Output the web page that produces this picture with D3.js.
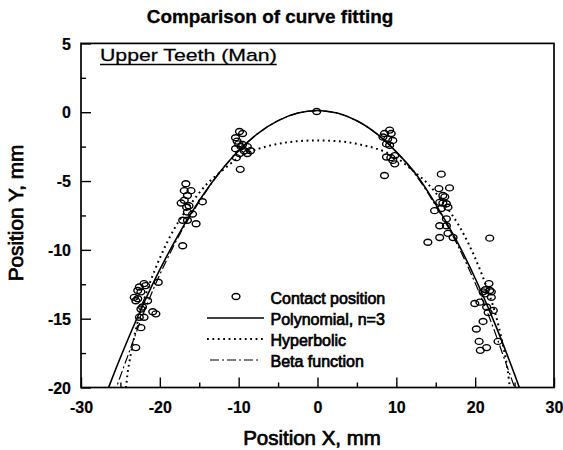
<!DOCTYPE html>
<html><head><meta charset="utf-8">
<script src="https://cdn.jsdelivr.net/npm/d3@7"></script>
<style>body{margin:0;background:#fff}svg{display:block}text{font-family:"Liberation Sans",Arial,sans-serif;fill:#000}</style>
</head><body>
<svg id="c" width="563" height="450"></svg>
<script>
// ---- data ----
const xTickValues = [-30,-20,-10,0,10,20,30];
const yTickValues = [5,0,-5,-10,-15,-20];
const xMinorTicks = [-25,-15,-5,5,15,25];
const yMinorTicks = [2.5,-2.5,-7.5,-12.5,-17.5];

const contactX = [-0.1,
 -9.9,-9.5,-10.4,-10.2,-9.5,-8.9,-10.4,-9.3,-8.5,-9.9,-8.9,-10.3,-9.8,-9.7,-10.0,
 -16.7,-16.9,-16.05,-16.5,-16.9,-17.3,-14.6,-16.3,-16.5,-15.85,-17.1,-16.5,-15.4,-17.1,-16.6,
 -20.2,
 -22.0,-21.8,-22.6,-22.8,-22.4,-23.25,-22.8,-23.05,-21.55,-22.2,-22.4,-20.9,-20.5,-22.6,-22.0,-22.4,-23.05,
 8.5,9.15,9.35,8.3,8.9,9.55,8.75,9.15,9.8,8.75,9.55,9.8,8.5,9.3,
 15.7,15.4,16.75,15.9,16.15,15.5,16.35,16.55,14.85,15.7,16.35,15.5,16.35,16.55,15.5,17.2,14.0,21.85,15.9,
 21.75,21.0,21.85,22.05,21.2,22.05,19.95,20.6,21.45,22.3,21.65,21.0,20.15,22.9,20.5,21.45,20.65,21.3];
const contactY = [0.05,
 -1.4,-1.55,-1.85,-2.1,-2.35,-2.5,-2.65,-2.8,-2.8,-3.0,-3.0,-3.3,-4.15,-2.5,-2.3,
 -5.2,-5.7,-5.7,-6.05,-6.4,-6.6,-6.5,-6.8,-7.25,-7.4,-7.85,-7.85,-8.1,-9.7,-6.9,
 -12.35,
 -12.45,-12.6,-12.7,-12.95,-13.05,-13.45,-13.55,-13.7,-13.7,-14.15,-14.3,-14.5,-14.65,-14.9,-14.9,-15.65,-17.1,
 -1.55,-1.3,-1.55,-1.8,-1.95,-2.05,-2.3,-2.4,-3.15,-3.25,-3.5,-3.75,-4.6,-3.3,
 -4.5,-5.55,-5.5,-6.05,-6.15,-6.55,-6.65,-6.9,-7.15,-7.0,-7.75,-8.25,-8.25,-8.8,-9.1,-9.1,-9.45,-9.15,-6.6,
 -12.45,-13.05,-12.95,-13.05,-13.2,-13.45,-13.9,-13.8,-14.15,-14.4,-14.55,-15.2,-15.75,-16.65,-16.65,-17.1,-17.3,-12.9];

const polyX = [-26.8,-26.5,-25,-22.5,-20,-17.5,-15,-12.5,-10,-7.5,-5,-2.5,0,2.5,5,7.5,10,12.5,15,17.5,20,22.5,25,25.6,25.9];
const polyY = [-20.44,-20.0,-17.82,-14.46,-11.44,-8.76,-6.42,-4.43,-2.80,-1.52,-0.61,-0.055,0.13,-0.06,-0.62,-1.56,-2.88,-4.51,-6.69,-9.18,-12.06,-15.36,-19.05,-20.0,-20.47];

const hypX = [-24.5,-24.3,-24,-23,-22,-20,-18,-16,-14,-12,-10,-8,-4,0,4,8,10,12,14,16,18,20,22,23,24,24.4,24.6];
const hypY = [-20.8,-20,-18.6,-15.7,-13.6,-10.6,-8.3,-6.6,-5.2,-4.2,-3.3,-2.75,-2.2,-2.05,-2.2,-2.75,-3.3,-4.2,-5.2,-6.6,-8.3,-10.6,-13.6,-15.6,-18.3,-20,-20.9];

const betaX = [-25.8,-25.5,-24,-22,-20,-17.5,-15,-12.5,-10,-7.5,-5,-2.5,0,2.5,5,7.5,10,12.5,15,17.5,20,22,24,25,25.3];
const betaY = [-20.6,-20,-17.6,-14.5,-11.8,-8.9,-6.5,-4.45,-2.8,-1.52,-0.62,-0.06,0.1,-0.07,-0.63,-1.56,-2.9,-4.6,-6.8,-9.35,-12.4,-15.2,-18.4,-20,-20.6];

const legendLabels = ["Contact position","Polynomial, n=3","Hyperbolic","Beta function"];

// ---- layout ----
const svg = d3.select("#c");
const L = 81, R = 554, T = 43.4, B = 387.5;
const x = d3.scaleLinear().domain([-30,30]).range([L,R]);
const y = d3.scaleLinear().domain([-20,5]).range([B,T]);

function stext(g, str, px, py, opts){
  const sx = opts.sx || 1;
  const gg = g.append("g").attr("transform",`translate(${px},${py})${opts.rot?` rotate(${opts.rot})`:""} scale(${sx},1)`);
  const t = gg.append("text").text(str)
    .attr("font-size",opts.size).attr("font-weight",opts.bold?"bold":"normal")
    .attr("text-anchor",opts.anchor||"start");
  if (opts.thick) t.attr("stroke","#000").attr("stroke-width",opts.thick);
  return t;
}

// title
stext(svg,"Comparison of curve fitting",270,23,{size:18,bold:true,anchor:"middle",sx:1.05,thick:0.3});

// clip
svg.append("clipPath").attr("id","clip").append("rect").attr("x",L).attr("y",T).attr("width",R-L).attr("height",B-T);

// axes
const fmt = d => String(d);
const xAxis = svg.append("g").attr("transform",`translate(0,${B})`)
  .call(d3.axisBottom(x).tickValues(xTickValues).tickSize(-10).tickPadding(14).tickFormat(fmt));
const xMinor = svg.append("g").attr("transform",`translate(0,${B})`)
  .call(d3.axisBottom(x).tickValues(xMinorTicks).tickSize(-5).tickFormat(""));
const yAxis = svg.append("g").attr("transform",`translate(${L},0)`)
  .call(d3.axisLeft(y).tickValues(yTickValues).tickSize(-10).tickPadding(10).tickFormat(fmt));
const yMinor = svg.append("g").attr("transform",`translate(${L},0)`)
  .call(d3.axisLeft(y).tickValues(yMinorTicks).tickSize(-5).tickFormat(""));
[xAxis,xMinor,yAxis,yMinor].forEach(a=>{
  a.select(".domain").remove();
  a.selectAll(".tick line").attr("stroke","#000").attr("stroke-width",1.4);
  a.selectAll("text").attr("font-size",16).attr("font-weight","bold")
    .attr("font-family",'"Liberation Sans",Arial,sans-serif').attr("fill","#000")
    .attr("stroke","#000").attr("stroke-width",0.2);
});
yAxis.selectAll("text").attr("dy","0.36em");

// frame
svg.append("rect").attr("x",L).attr("y",T).attr("width",R-L).attr("height",B-T)
  .attr("fill","none").attr("stroke","#000").attr("stroke-width",1.7);

// curves
const plot = svg.append("g").attr("clip-path","url(#clip)");
const line = d3.line().x(d=>x(d[0])).y(d=>y(d[1])).curve(d3.curveCatmullRom.alpha(0.5));
plot.append("path").datum(polyX.map((v,i)=>[v,polyY[i]])).attr("d",line)
  .attr("fill","none").attr("stroke","#000").attr("stroke-width",1.6);
plot.append("path").datum(hypX.map((v,i)=>[v,hypY[i]])).attr("d",line)
  .attr("fill","none").attr("stroke","#000").attr("stroke-width",2).attr("stroke-dasharray","1.8,3.6");
plot.append("path").datum(betaX.map((v,i)=>[v,betaY[i]])).attr("d",line)
  .attr("fill","none").attr("stroke","#000").attr("stroke-width",1.2).attr("stroke-dasharray","9,3,2,3");

// points
plot.selectAll("ellipse.pt").data(contactX.map((v,i)=>[v,contactY[i]])).enter().append("ellipse")
  .attr("class","pt").attr("cx",d=>x(d[0])).attr("cy",d=>y(d[1])).attr("rx",3.9).attr("ry",3.0)
  .attr("fill","none").attr("stroke","#000").attr("stroke-width",1.4);

// inner label
const utSx = 1.25;
const ut = stext(svg,"Upper Teeth (Man)",100,61,{size:17,anchor:"start",sx:utSx,thick:0.25});
const utw = ut.node().getComputedTextLength()*utSx;
svg.append("line").attr("x1",100).attr("x2",100+utw).attr("y1",64.5).attr("y2",64.5).attr("stroke","#000").attr("stroke-width",1.4);

// legend
const lg = svg.append("g");
const lBase = [303.5,324.5,345.5,366.5];
lg.append("ellipse").attr("cx",236).attr("cy",lBase[0]-7).attr("rx",3.9).attr("ry",3.0)
  .attr("fill","none").attr("stroke","#000").attr("stroke-width",1.4);
lg.append("line").attr("x1",207).attr("x2",264).attr("y1",lBase[1]-6.5).attr("y2",lBase[1]-6.5)
  .attr("stroke","#000").attr("stroke-width",1.6);
lg.append("line").attr("x1",207).attr("x2",264).attr("y1",lBase[2]-6.5).attr("y2",lBase[2]-6.5)
  .attr("stroke","#000").attr("stroke-width",2).attr("stroke-dasharray","1.8,3.6");
lg.append("line").attr("x1",210).attr("x2",260).attr("y1",lBase[3]-6.5).attr("y2",lBase[3]-6.5)
  .attr("stroke","#000").attr("stroke-width",1.2).attr("stroke-dasharray","9,3,2,3");
legendLabels.forEach((s,i)=>stext(lg,s,270.5,lBase[i],{size:16,anchor:"start",thick:0.7}));

// axis titles
stext(svg,"Position X, mm",312,445,{size:19.5,anchor:"middle",thick:0.7,sx:1.05});
stext(svg,"Position Y, mm",23,213,{size:20,anchor:"middle",thick:0.7,rot:-90,sx:1.04});
</script>
</body></html>
